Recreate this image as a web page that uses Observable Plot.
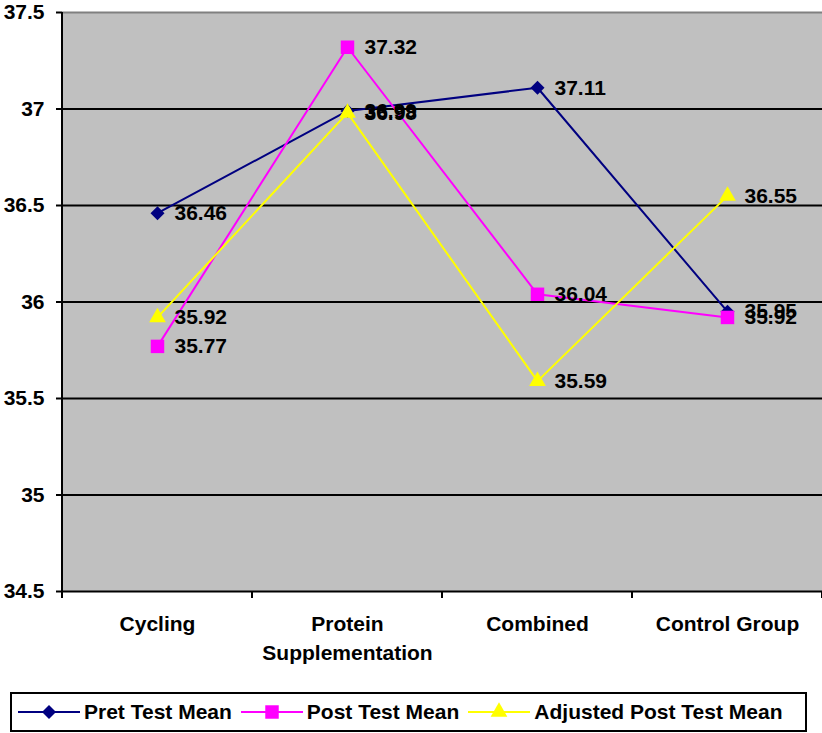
<!DOCTYPE html>
<html><head><meta charset="utf-8">
<script src="https://cdn.jsdelivr.net/npm/d3@7"></script>
<script src="https://cdn.jsdelivr.net/npm/@observablehq/plot@0.6"></script>
<style>
body{margin:0;background:#fff;font-family:"Liberation Sans",Arial,sans-serif;}
#wrap{position:relative;width:822px;height:733px;}
#legend{position:absolute;left:10px;top:692px;width:793px;height:36px;border:2px solid #000;display:flex;align-items:center;font-weight:bold;font-size:21px;background:#fff;}
.item{display:flex;align-items:center;margin-right:9px;}
.item svg{display:block;margin-right:4px;}
</style></head><body><div id="wrap"><div id="chart"></div><div id="legend"></div></div>
<script>
const categories = ["Cycling", "Protein\nSupplementation", "Combined", "Control Group"];
const preTestMean = [36.46, 36.99, 37.11, 35.95];
const postTestMean = [35.77, 37.32, 36.04, 35.92];
const adjustedPostTestMean = [35.92, 36.98, 35.59, 36.55];
const seriesNames = ["Pret Test Mean", "Post Test Mean", "Adjusted Post Test Mean"];
const seriesColors = ["#000080", "#ff00ff", "#ffff00"];
const yTicks = [34.5, 35, 35.5, 36, 36.5, 37, 37.5];

const seriesValues = [preTestMean, postTestMean, adjustedPostTestMean];
const seriesSymbols = [{symbol: "square", r: 5.6, rotate: 45}, {symbol: "square", r: 7.6, rotate: 0}, {symbol: "triangle", r: 6.2, rotate: 0}];
const rows = seriesNames.map((s, i) => categories.map((c, j) => ({series: s, category: c, value: seriesValues[i][j]})));
const allRows = rows.flat();

const marks = [
  Plot.frame({fill: "#c0c0c0", stroke: "none"}),
  Plot.ruleY(yTicks.slice(0, -1), {y: d => d, stroke: "black", strokeWidth: 2}),
  Plot.ruleY(yTicks.slice(-1), {y: d => d, stroke: "#808080", strokeWidth: 2}),
  Plot.ruleX(categories, {x: d => d, y1: yTicks[0], y2: yTicks[0], render: (index, scales, values, dims) => {
    const X = Array.from(index, i => values.x[i]);
    const step = X[1] - X[0];
    const y0 = values.y1[index[0]];
    const bounds = [X[0] - step / 2, ...X.map(x => x + step / 2)];
    const g = d3.create("svg:g").attr("stroke", "black").attr("stroke-width", 2);
    bounds.forEach(b => g.append("line").attr("x1", b).attr("x2", b).attr("y1", y0).attr("y2", y0 + 7));
    g.append("line").attr("x1", bounds[0]).attr("x2", bounds[0]).attr("y1", dims.marginTop).attr("y2", y0);
    return g.node();
  }}),
  Plot.axisY({ticks: yTicks, tickFormat: d => String(d), tickSize: 6, tickPadding: 12, strokeWidth: 2, label: null, fontSize: 21, fontWeight: "bold"}),
  Plot.text(categories, {x: d => d, text: d => d, frameAnchor: "bottom", lineAnchor: "top", dy: 19, fontSize: 21, fontWeight: "bold", lineHeight: 1.38})
];
rows.forEach((r, i) => {
  marks.push(Plot.line(r, {x: "category", y: "value", stroke: seriesColors[i], strokeWidth: 2}));
  marks.push(Plot.dot(r, {x: "category", y: "value", symbol: seriesSymbols[i].symbol, r: seriesSymbols[i].r, rotate: seriesSymbols[i].rotate, fill: seriesColors[i], stroke: "none"}));
});
marks.push(Plot.text(allRows, {x: "category", y: "value", text: d => d.value.toFixed(2), textAnchor: "start", dx: 17, fontSize: 21, fontWeight: "bold", fill: "black"}));

const chart = Plot.plot({
  width: 822, height: 680,
  marginLeft: 62, marginRight: 0, marginTop: 12, marginBottom: 89,
  style: {fontFamily: "'Liberation Sans', Arial, sans-serif", fontWeight: "bold", fontSize: "21px", color: "black", background: "white", overflow: "visible"},
  x: {type: "point", domain: categories, padding: 0.5, axis: null},
  y: {domain: [yTicks[0], yTicks[yTicks.length - 1]]},
  marks
});
document.getElementById("chart").appendChild(chart);

const legend = d3.select("#legend");
legend.style("padding-left", "6px").style("width", "787px");
const symMap = [d3.symbolSquare, d3.symbolSquare, d3.symbolTriangle];
seriesNames.forEach((name, i) => {
  const item = legend.append("div").attr("class", "item");
  const svg = item.append("svg").attr("width", 62).attr("height", 20);
  svg.append("line").attr("x1", 0).attr("x2", 62).attr("y1", 10).attr("y2", 10).attr("stroke", seriesColors[i]).attr("stroke-width", 2);
  const r = seriesSymbols[i].r;
  svg.append("path").attr("d", d3.symbol(symMap[i], Math.PI * r * r)()).attr("fill", seriesColors[i])
    .attr("transform", `translate(31,10) rotate(${seriesSymbols[i].rotate})`);
  item.append("span").text(name);
});
</script></body></html>
